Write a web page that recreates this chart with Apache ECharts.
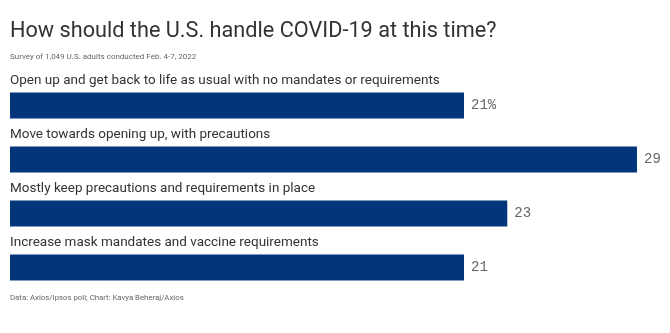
<!DOCTYPE html>
<html><head><meta charset="utf-8">
<script src="https://cdn.jsdelivr.net/npm/echarts@6/dist/echarts.min.js"></script>
<style>html,body{margin:0;padding:0;background:#fff}#c{width:670px;height:333px}</style>
</head><body><div id="c"></div>
<script>
const categories = [
  "Open up and get back to life as usual with no mandates or requirements",
  "Move towards opening up, with precautions",
  "Mostly keep precautions and requirements in place",
  "Increase mask mandates and vaccine requirements"
];
const values = [21, 29, 23, 21];
const valueLabels = ["21%", "29", "23", "21"];
const titleText = "How should the U.S. handle COVID-19 at this time?";
const subtitleText = "Survey of 1,049 U.S. adults conducted Feb. 4-7, 2022";
const footerText = "Data: Axios/Ipsos poll; Chart: Kavya Beheraj/Axios";

const font = "Roboto";
const chart = echarts.init(document.getElementById('c'), null, {renderer: 'canvas'});
chart.setOption({
  animation: false,
  backgroundColor: '#fff',
  title: [
    {text: titleText, left: 10, top: 21, padding: 0, textStyle: {fontFamily: font, fontSize: 21.7, fontWeight: 'normal', color: '#333'}},
    {text: subtitleText, left: 10, top: 53, padding: 0, textStyle: {fontFamily: font, fontSize: 8, fontWeight: 'normal', color: '#666'}},
    {text: footerText, left: 10, top: 294, padding: 0, textStyle: {fontFamily: font, fontSize: 7.8, fontWeight: 'normal', color: '#666'}}
  ],
  grid: {left: 10, right: 11.4, top: 78.5, height: 216, containLabel: false},
  xAxis: {type: 'value', min: 0, max: 30, show: false},
  yAxis: {type: 'category', data: categories, inverse: true, show: false},
  series: [
    {
      type: 'bar', data: values, barWidth: 26, itemStyle: {color: '#03357a'},
      label: {show: true, position: [0, -19], align: 'left', verticalAlign: 'top',
        formatter: p => categories[p.dataIndex],
        fontFamily: font, fontSize: 13.5, color: '#333'}
    },
    {
      type: 'bar', data: values, barWidth: 26, barGap: '-100%', itemStyle: {color: 'transparent'},
      label: {show: true, position: 'right', distance: 7,
        formatter: p => valueLabels[p.dataIndex],
        fontFamily: "Liberation Mono", fontSize: 14, color: '#666'}
    }
  ]
});
</script></body></html>
